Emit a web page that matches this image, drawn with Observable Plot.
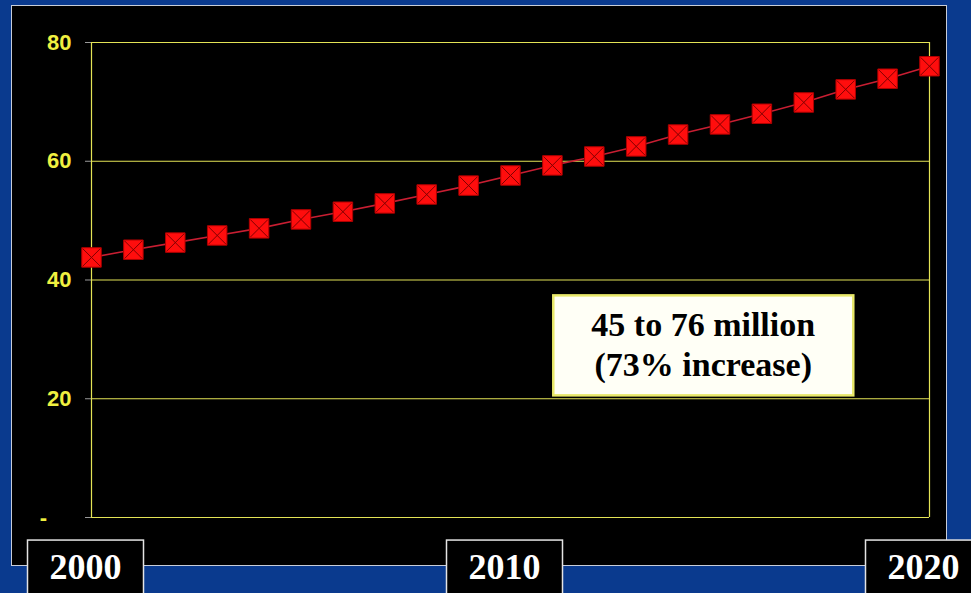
<!DOCTYPE html>
<html>
<head>
<meta charset="utf-8">
<script src="https://cdn.jsdelivr.net/npm/d3@7"></script>
<script src="https://cdn.jsdelivr.net/npm/@observablehq/plot@0.6"></script>
<style>
  html, body { margin: 0; padding: 0; background: #0a3a8e; }
  #wrap { position: relative; width: 971px; height: 593px; overflow: hidden; background: #0a3a8e; }
  #panel { position: absolute; left: 11px; top: 5px; width: 934px; height: 559px; background: #000; border: 1px solid #c8cdd8; }
  #chart { position: absolute; left: 0; top: 0; }
  #chart svg { background: transparent !important; }
  #chart g.year-axis text, #chart g.annotation text { font-family: "Liberation Serif", "Times New Roman", serif !important; font-weight: bold !important; }
  #chart g.y-axis text { font-family: "Liberation Sans Narrow", "Arial Narrow", "Liberation Sans", Arial, sans-serif !important; font-weight: bold !important; }
</style>
</head>
<body>
<div id="wrap">
  <div id="panel"></div>
  <div id="chart"></div>
</div>
<script>
// Data
const years = [2000, 2001, 2002, 2003, 2004, 2005, 2006, 2007, 2008, 2009, 2010,
               2011, 2012, 2013, 2014, 2015, 2016, 2017, 2018, 2019, 2020];
const values = [43.8, 45.1, 46.3, 47.5, 48.7, 50.2, 51.5, 52.9, 54.4, 55.9, 57.6,
                59.3, 60.8, 62.5, 64.5, 66.2, 68.0, 69.9, 72.1, 73.9, 76.0];
const yTicks = [0, 20, 40, 60, 80];
const xTicks = [2000, 2010, 2020];
const annotationLines = ["45 to 76 million", "(73% increase)"];
const annotationX = [2014.6];
const annotationY = [29.3];

const data = years.map((year, i) => ({year, value: values[i]}));
const annotation = [{x: annotationX[0], y: annotationY[0], text: annotationLines.join("\n")}];

const yellow = "#e4e456";

const chart = Plot.plot({
  width: 971,
  height: 593,
  marginLeft: 91,
  marginRight: 42,
  marginTop: 42,
  marginBottom: 76,
  style: {background: "transparent", overflow: "visible"},
  x: {domain: [2000, 2020]},
  y: {domain: [0, 80]},
  marks: [
    Plot.ruleY(yTicks, {stroke: yellow, strokeWidth: 1.2}),
    Plot.ruleX([xTicks[0], xTicks[xTicks.length - 1]], {y1: 0, y2: 80, stroke: yellow, strokeWidth: 1.2}),
    Plot.axisY({
      ticks: yTicks,
      tickSize: 6,
      tickPadding: 14,
      stroke: "#9a9a9a",
      fill: "#f0f040",
      fontSize: 22,
      fontWeight: "bold",
      tickFormat: d => d === 0 ? "-\u00a0\u00a0\u00a0\u00a0" : String(d),
      label: null,
      className: "y-axis"
    }),
    Plot.axisX({
      ticks: xTicks,
      tickSize: 0,
      tickPadding: 36,
      dx: -6,
      fill: "#ffffff",
      fontSize: 36,
      fontWeight: "bold",
      tickFormat: d => String(d),
      label: null,
      className: "year-axis"
    }),
    Plot.line(data, {x: "year", y: "value", stroke: "#c81e32", strokeWidth: 1.6}),
    Plot.dot(data, {x: "year", y: "value", symbol: "square", r: 11, fill: "#ff0d0d", stroke: "#b00000", strokeWidth: 1}),
    Plot.dot(data, {x: "year", y: "value", symbol: "times", r: 8, stroke: "#800000", strokeWidth: 1}),
    Plot.text(annotation, {
      x: "x", y: "y", text: "text",
      fontSize: 34, fontWeight: "bold",
      fill: "#000000", lineHeight: 1.18, lineAnchor: "middle", textAnchor: "middle",
      className: "annotation"
    })
  ]
});

document.getElementById("chart").appendChild(chart);

// Boxes behind the year labels, sized from the rendered label text
const ns = "http://www.w3.org/2000/svg";
chart.querySelectorAll("g.year-axis text").forEach(t => {
  const b = t.getBBox();
  const g = t.parentNode;
  const r = document.createElementNS(ns, "rect");
  r.setAttribute("x", b.x - 22);
  r.setAttribute("y", b.y - 7);
  r.setAttribute("width", b.width + 44);
  r.setAttribute("height", b.height + 60);
  r.setAttribute("fill", "#000");
  r.setAttribute("stroke", "#e4e4e4");
  r.setAttribute("stroke-width", 1.5);
  r.setAttribute("transform", t.getAttribute("transform") || "");
  g.insertBefore(r, t);
});

// Box behind the annotation text
chart.querySelectorAll("g.annotation text").forEach(t => {
  const b = t.getBBox();
  const g = t.parentNode;
  const r = document.createElementNS(ns, "rect");
  const w = 300, h = 100;
  r.setAttribute("x", b.x + b.width / 2 - w / 2);
  r.setAttribute("y", b.y + b.height / 2 - h / 2);
  r.setAttribute("width", w);
  r.setAttribute("height", h);
  r.setAttribute("fill", "#fffff6");
  r.setAttribute("stroke", "#e8e86a");
  r.setAttribute("stroke-width", 2.5);
  r.setAttribute("transform", t.getAttribute("transform") || "");
  g.insertBefore(r, t);
});
</script>
</body>
</html>
